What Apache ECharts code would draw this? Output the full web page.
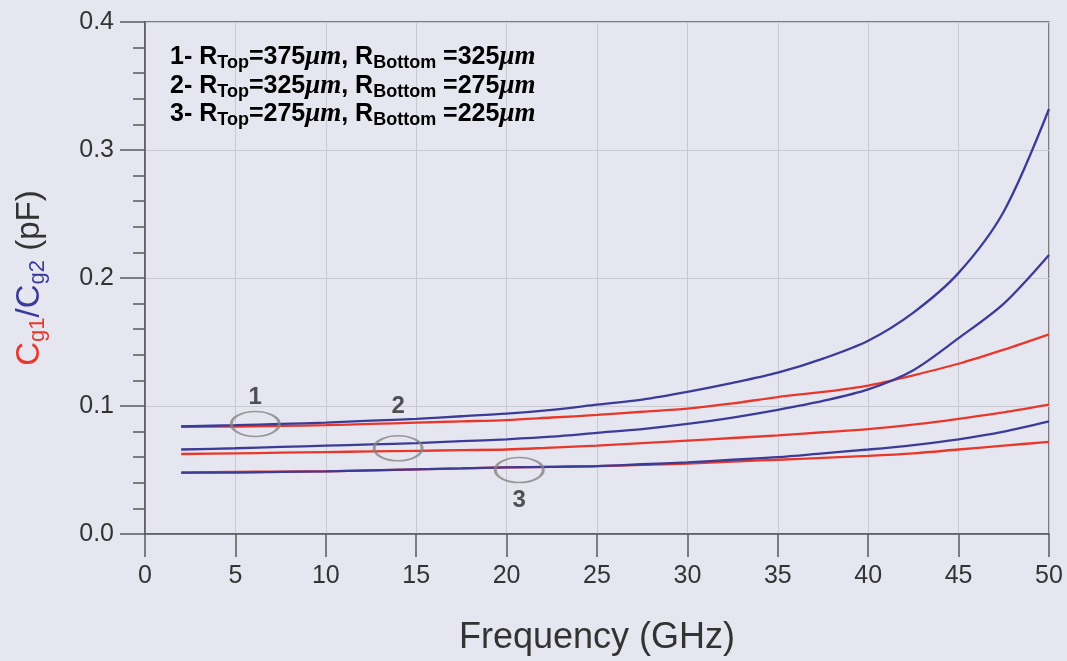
<!DOCTYPE html>
<html>
<head>
<meta charset="utf-8">
<script src="https://cdn.jsdelivr.net/npm/echarts@6/dist/echarts.min.js"></script>
<style>
  html, body { margin: 0; padding: 0; background: #e6e6f0; }
  #chart { width: 1067px; height: 661px; }
</style>
</head>
<body>
<div id="chart"></div>
<script>
// frequency points (GHz)
const freq = [2, 5, 7.5, 10, 12.5, 15, 17.5, 20, 22.5, 25, 27.5, 30, 32.5, 35, 37.5, 40, 42.5, 45, 47.5, 50];

// Cg2 (blue) and Cg1 (red) for the three geometries, pF
const blue1 = [0.084, 0.085, 0.086, 0.087, 0.0885, 0.090, 0.092, 0.094, 0.097, 0.101, 0.105, 0.111, 0.118, 0.126, 0.137, 0.151, 0.173, 0.204, 0.252, 0.332];
const red1  = [0.084, 0.084, 0.0845, 0.085, 0.086, 0.087, 0.088, 0.089, 0.091, 0.093, 0.0955, 0.098, 0.102, 0.107, 0.111, 0.116, 0.124, 0.133, 0.144, 0.156];
const blue2 = [0.066, 0.067, 0.068, 0.069, 0.070, 0.071, 0.0725, 0.074, 0.076, 0.079, 0.082, 0.086, 0.091, 0.097, 0.104, 0.113, 0.128, 0.153, 0.180, 0.218];
const red2  = [0.0625, 0.063, 0.0635, 0.064, 0.0645, 0.065, 0.0655, 0.066, 0.0675, 0.069, 0.071, 0.073, 0.075, 0.077, 0.0795, 0.082, 0.0855, 0.090, 0.095, 0.101];
const blue3 = [0.048, 0.048, 0.0485, 0.049, 0.0497, 0.0505, 0.0512, 0.052, 0.0525, 0.053, 0.0545, 0.056, 0.058, 0.060, 0.063, 0.066, 0.0695, 0.074, 0.080, 0.088];
const red3  = [0.048, 0.0485, 0.0488, 0.049, 0.0497, 0.0505, 0.0512, 0.052, 0.0525, 0.053, 0.054, 0.055, 0.0565, 0.058, 0.0595, 0.061, 0.063, 0.066, 0.069, 0.072];

// ellipse markers and their numbers
const markers = [[6.1, 0.086], [14.0, 0.067], [20.7, 0.050]];
const markerLabels = [[6.1, 0.107, "1"], [14.0, 0.100, "2"], [20.7, 0.026, "3"]];

const legendLines = [
  ["1", "375", "325"],
  ["2", "325", "275"],
  ["3", "275", "225"],
];

const RED = "#e8382c";
const BLUE = "#3b3b98";
const AXIS = "#5a5a5a";

function pairs(ys) {
  return freq.map((f, i) => [f, ys[i]]);
}

function curve(ys, color) {
  return {
    type: "line",
    data: pairs(ys),
    smooth: 0.3,
    symbol: "none",
    lineStyle: { color: color, width: 2.3 },
    z: color === BLUE ? 3 : 2,
  };
}

const chart = echarts.init(document.getElementById("chart"));

const legendRich = {
  a: { fontSize: 25, fontWeight: "bold", fontFamily: "Liberation Sans", color: "#222", lineHeight: 30, verticalAlign: "middle" },
  s: { fontSize: 18, fontWeight: "bold", fontFamily: "Liberation Sans", color: "#222", lineHeight: 18, verticalAlign: "bottom" },
  i: { fontSize: 27, fontWeight: "bold", fontStyle: "italic", fontFamily: "Liberation Serif", color: "#222", lineHeight: 30, verticalAlign: "middle" },
};

chart.setOption({
  backgroundColor: "#e6e6f0",
  animation: false,
  grid: {
    left: 145,
    right: 18,
    top: 22,
    bottom: 126,
    show: true,
    borderColor: AXIS,
    borderWidth: 1.5,
    backgroundColor: "transparent",
  },
  xAxis: {
    type: "value",
    min: 0,
    max: 50,
    interval: 5,
    name: "Frequency (GHz)",
    nameLocation: "middle",
    nameGap: 86,
    nameTextStyle: { fontSize: 36, fontFamily: "Liberation Sans", color: "#333" },
    axisLine: { lineStyle: { color: AXIS, width: 1.5 } },
    axisTick: { length: 23, lineStyle: { color: AXIS, width: 1.5 } },
    axisLabel: { margin: 30, fontSize: 25, fontFamily: "Liberation Sans", color: "#333" },
    splitLine: { show: true, lineStyle: { color: "#c9c9d1", width: 1 } },
  },
  yAxis: {
    type: "value",
    min: 0,
    max: 0.4,
    interval: 0.1,
    name: "{r|C}{rs|g1}{b|/C}{bs|g2}{k| (pF)}",
    nameLocation: "middle",
    nameRotate: 90,
    nameGap: 96,
    nameTextStyle: {
      rich: {
        r: { fontSize: 33, color: RED, fontFamily: "Liberation Sans", lineHeight: 38, verticalAlign: "middle" },
        rs: { fontSize: 22, color: RED, fontFamily: "Liberation Sans", lineHeight: 22, verticalAlign: "bottom" },
        b: { fontSize: 33, color: BLUE, fontFamily: "Liberation Sans", lineHeight: 38, verticalAlign: "middle" },
        bs: { fontSize: 22, color: BLUE, fontFamily: "Liberation Sans", lineHeight: 22, verticalAlign: "bottom" },
        k: { fontSize: 33, color: "#333", fontFamily: "Liberation Sans", lineHeight: 38, verticalAlign: "middle" },
      },
    },
    axisLine: { lineStyle: { color: AXIS, width: 1.5 } },
    axisTick: { length: 25, lineStyle: { color: AXIS, width: 1.5 } },
    minorTick: { show: true, splitNumber: 5, length: 12, lineStyle: { color: AXIS, width: 1.5 } },
    axisLabel: {
      margin: 31,
      fontSize: 25,
      fontFamily: "Liberation Sans",
      color: "#333",
      formatter: (v) => v.toFixed(1),
    },
    splitLine: { show: true, lineStyle: { color: "#c9c9d1", width: 1 } },
  },
  graphic: legendLines.map((l, k) => ({
    type: "text",
    left: 170,
    top: 44 + k * 28.5,
    z: 10,
    style: {
      text: `{a|${l[0]}- R}{s|Top}{a|=${l[1]}}{i|μm}{a|, R}{s|Bottom}{a| =${l[2]}}{i|μm}`,
      rich: legendRich,
    },
  })),
  series: [
    curve(red1, RED),
    curve(red2, RED),
    curve(red3, RED),
    curve(blue1, BLUE),
    curve(blue2, BLUE),
    curve(blue3, BLUE),
    {
      type: "scatter",
      data: markers,
      symbol: "circle",
      symbolSize: [48, 25],
      itemStyle: { color: "rgba(0,0,0,0)", borderColor: "#858585", borderWidth: 2.2 },
      z: 5,
    },
    {
      type: "scatter",
      data: markerLabels.map((m) => [m[0], m[1]]),
      symbolSize: 0,
      label: {
        show: true,
        position: "inside",
        formatter: (p) => markerLabels[p.dataIndex][2],
        fontSize: 24,
        fontWeight: "bold",
        fontFamily: "Liberation Sans",
        color: "#2a2a2a",
      },
      z: 6,
    },
  ],
});
</script>
</body>
</html>
